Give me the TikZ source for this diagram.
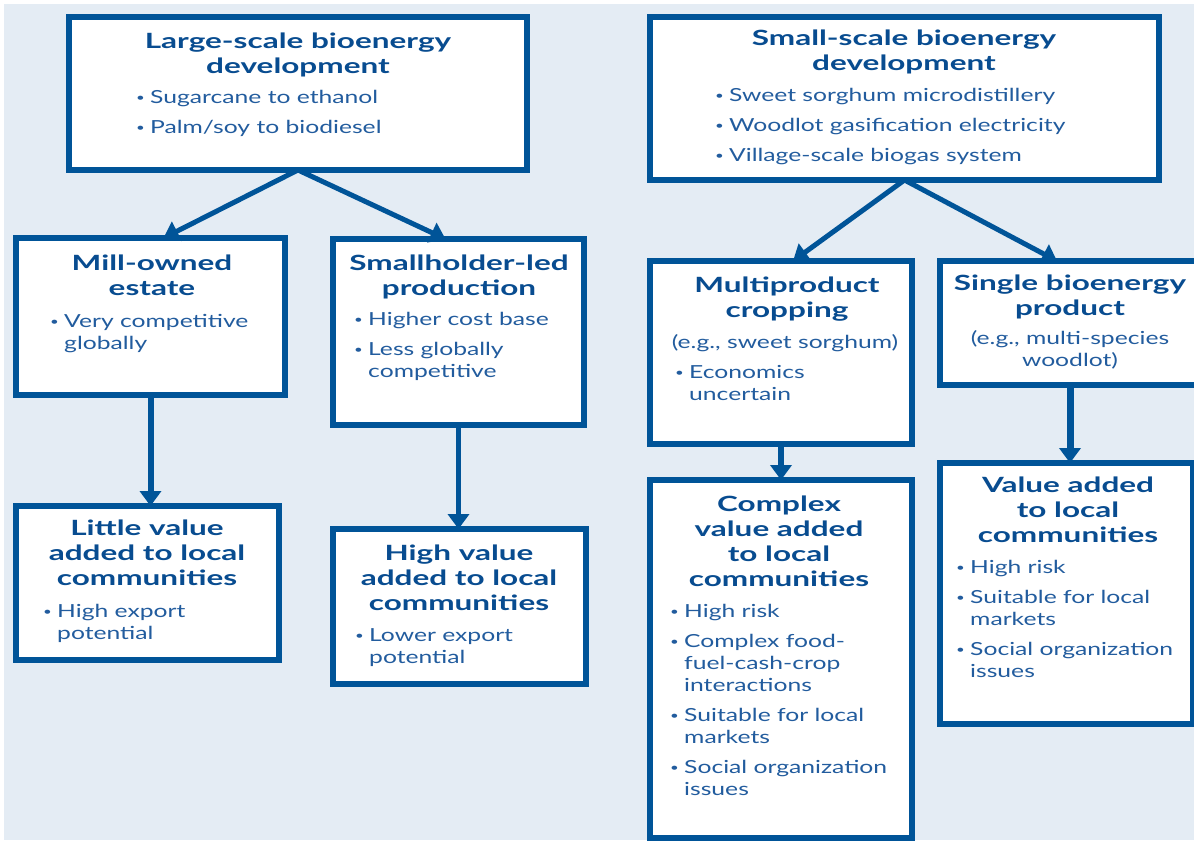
\documentclass[tikz,border=0pt]{standalone}
\usepackage{fontspec}
\setmainfont[FakeStretch=1.37]{Lato}
\newfontfamily\ttlfont[FakeStretch=1.5]{Lato}
\usetikzlibrary{arrows.meta,calc}
\definecolor{bluebd}{RGB}{0,84,152}
\definecolor{panelbg}{RGB}{228,236,244}
\definecolor{ttlblue}{RGB}{8,76,144}
\definecolor{bodyblue}{RGB}{34,92,158}
\newcommand{\bu}{\makebox[14pt][l]{\raisebox{2pt}{\fontsize{11}{11}\selectfont\textbullet}}}
\newcommand{\hang}{\hspace*{14pt}}
\tikzset{
  box/.style={draw=bluebd, line width=6pt, fill=white, inner sep=0pt, outer sep=0pt, anchor=north west},
  ttl/.style={anchor=north, inner sep=0pt, align=center, text=ttlblue, font=\ttlfont\bfseries\fontsize{21}{25}\selectfont},
  note/.style={anchor=north, inner sep=0pt, align=center, text=bodyblue, font=\fontsize{18}{22}\selectfont},
  body/.style={anchor=north west, inner sep=0pt, align=left, text=bodyblue, font=\fontsize{18}{22}\selectfont},
  arr/.style={draw=bluebd, line width=5pt, -{Triangle[length=15pt,width=21pt]}},
}
\begin{document}
\begin{tikzpicture}[x=1pt,y=-1pt]
\useasboundingbox (0,0) rectangle (1194,841);
\fill[white] (0,0) rectangle (1194,841);
\fill[panelbg] (4,4) rectangle (1194,840);

% boxes
\node[box, minimum width=458pt, minimum height=153pt] (ls) at (69,17) {};
\node[box, minimum width=509pt, minimum height=163pt] (ss) at (650,17) {};
\node[box, minimum width=269pt, minimum height=157pt] (mill) at (16,238) {};
\node[box, minimum width=251pt, minimum height=186pt] (small) at (333,239) {};
\node[box, minimum width=263pt, minimum height=154pt] (little) at (16,506) {};
\node[box, minimum width=253pt, minimum height=155pt] (high) at (333,529) {};
\node[box, minimum width=262pt, minimum height=183pt] (multi) at (650,261) {};
\node[box, minimum width=260pt, minimum height=124pt] (single) at (940,261) {};
\node[box, minimum width=253pt, minimum height=261pt] (value) at (940,463) {};
\node[box, minimum width=262pt, minimum height=358pt] (complex) at (650,480) {};

% texts
\node[ttl] (lsT) at (298,30.5) {\strut Large-scale bioenergy\\development};
\node[body] (lsB) at (136,87.6) {\strut\bu Sugarcane to ethanol\\[8pt]\bu Palm/soy to biodiesel};

\node[ttl] (ssT) at (904,27.5) {\strut Small-scale bioenergy\\development};
\node[body] (ssB) at (715,85.6) {\strut\bu Sweet sorghum microdistillery\\[8pt]\bu Woodlot gasification electricity\\[8pt]\bu Village-scale biogas system};

\node[ttl] (millT) at (152,252.5) {\strut Mill-owned\\estate};
\node[body] (millB) at (50,311.6) {\strut\bu Very competitive\\\hang globally};

\node[ttl] (smallT) at (459,252.5) {\strut Smallholder-led\\production};
\node[body] (smallB) at (354,309.6) {\strut\bu Higher cost base\\[8pt]\bu Less globally\\\hang competitive};

\node[ttl] (multiT) at (787,274.5) {\strut Multiproduct\\cropping};
\node[note] (multiN) at (785,332.6) {\strut(e.g., sweet sorghum)};
\node[body] (multiB) at (675,362.6) {\strut\bu Economics\\\hang uncertain};

\node[ttl] (singleT) at (1070,272.5) {\strut Single bioenergy\\product};
\node[note] (singleN) at (1070,328.6) {\strut(e.g., multi-species\\woodlot)};

\node[ttl] (littleT) at (147,517.5) {\strut Little value\\added to local\\communities};
\node[body] (littleB) at (43,601.6) {\strut\bu High export\\\hang potential};

\node[ttl] (highT) at (459,542.5) {\strut High value\\added to local\\communities};
\node[body] (highB) at (355,625.6) {\strut\bu Lower export\\\hang potential};

\node[ttl] (complexT) at (779,493.5) {\strut Complex\\value added\\to local\\communities};
\node[body] (complexB) at (670,601.6) {\strut\bu High risk\\[8pt]\bu Complex food-\\\hang fuel-cash-crop\\\hang interactions\\[8pt]\bu Suitable for local\\\hang markets\\[8pt]\bu Social organization\\\hang issues};

\node[ttl] (valueT) at (1068,474.5) {\strut Value added\\to local\\communities};
\node[body] (valueB) at (956,557.6) {\strut\bu High risk\\[8pt]\bu Suitable for local\\\hang markets\\[8pt]\bu Social organization\\\hang issues};

% connectors
\draw[arr] (ls.south) -- ($(mill.north)+(13,0)$);
\draw[arr] (ls.south) -- ($(small.north)+(-13,0)$);
\draw[arr] (ss.south) -- ($(multi.north)+(12,0)$);
\draw[arr] (ss.south) -- ($(single.north)+(-13,0)$);
\draw[arr, line width=6pt] (mill.south) -- (mill.south |- little.north);
\draw[arr, line width=4.5pt] (small.south) -- (small.south |- high.north);
\draw[arr, line width=6pt] (multi.south) -- (multi.south |- complex.north);
\draw[arr, line width=7pt] (single.south) -- (single.south |- value.north);
\end{tikzpicture}
\end{document}
